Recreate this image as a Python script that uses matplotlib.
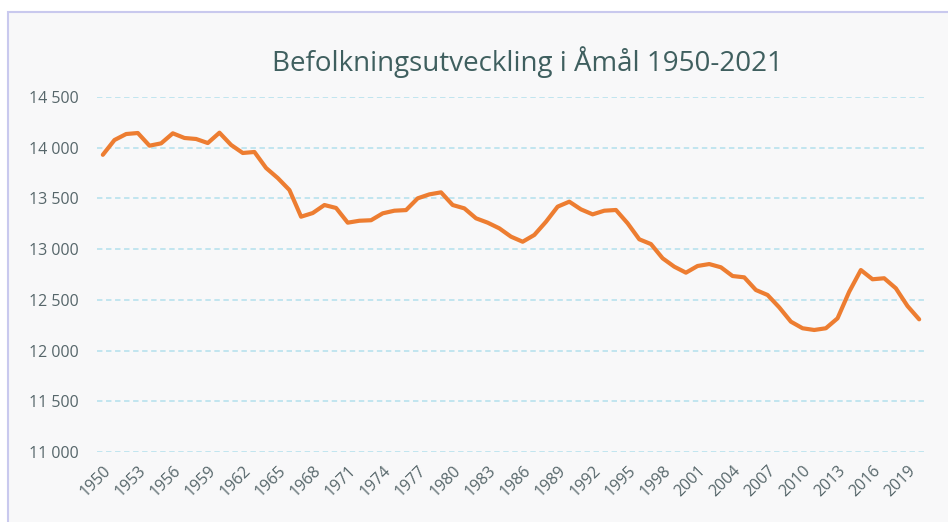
import matplotlib
matplotlib.use('Agg')
import matplotlib.pyplot as plt
from matplotlib.patches import Rectangle
import numpy as np

# population of Åmål per year
years = list(range(1950, 2021))
population = [13930, 14076, 14135, 14145, 14020, 14043, 14142, 14096, 14086, 14046,
              14148, 14027, 13948, 13958, 13800, 13701, 13583, 13320, 13356, 13435,
              13406, 13261, 13280, 13285, 13353, 13379, 13385, 13501, 13540, 13560,
              13435, 13402, 13304, 13261, 13205, 13123, 13073, 13140, 13270, 13419,
              13468, 13392, 13343, 13379, 13386, 13255, 13097, 13050, 12910, 12827,
              12768, 12834, 12853, 12821, 12735, 12722, 12597, 12548, 12426, 12285,
              12220, 12203, 12220, 12318, 12580, 12794, 12703, 12713, 12614, 12439,
              12308]
y_ticks = [11000, 11500, 12000, 12500, 13000, 13500, 14000, 14500]
title = 'Befolkningsutveckling i Åmål 1950-2021'

plt.rcParams['font.family'] = ['Open Sans', 'DejaVu Sans']

W, H = 948, 522
fig = plt.figure(figsize=(W / 100, H / 100), dpi=100, facecolor='white')

# chart area frame (cropped screenshot look)
fig.patches.append(Rectangle((8 / W, -0.1), 1.2, 1.1 - 12 / H,
                             transform=fig.transFigure, facecolor='#f8f8f9',
                             edgecolor='#c9c9ee', linewidth=1.5, zorder=-10))

ax = fig.add_axes([97 / W, 1 - 452 / H, (925 - 97) / W, (452 - 97) / H])
ax.set_facecolor('none')
ax.set_zorder(1)

x = np.arange(len(years))
ax.plot(x, population, color='#ed7d31', linewidth=3.0, solid_joinstyle='round',
        solid_capstyle='round', zorder=3)

ax.set_xlim(-0.5, len(years) - 0.5)
ax.set_ylim(11000, 14500)
ax.set_yticks(y_ticks)
ax.set_yticklabels(['{:,}'.format(v).replace(',', ' ') for v in y_ticks])
ax.set_xticks(x[::3])
ax.set_xticklabels([str(y) for y in years[::3]], rotation=45, ha='right',
                   rotation_mode='anchor')
ax.tick_params(axis='both', length=0, colors='#56666a', labelsize=11.5)
ax.tick_params(axis='y', pad=13)
ax.tick_params(axis='x', pad=8)

for v in y_ticks:
    ax.axhline(v, color='#bde3ee', linewidth=1.3, linestyle=(0, (3, 2)), zorder=1)

for s in ax.spines.values():
    s.set_visible(False)

fig.text(527 / W, 1 - 62 / H, title, ha='center', va='center',
         fontsize=20, color='#3f5f5f')

fig.savefig('out.png', dpi=100, facecolor=fig.get_facecolor())
